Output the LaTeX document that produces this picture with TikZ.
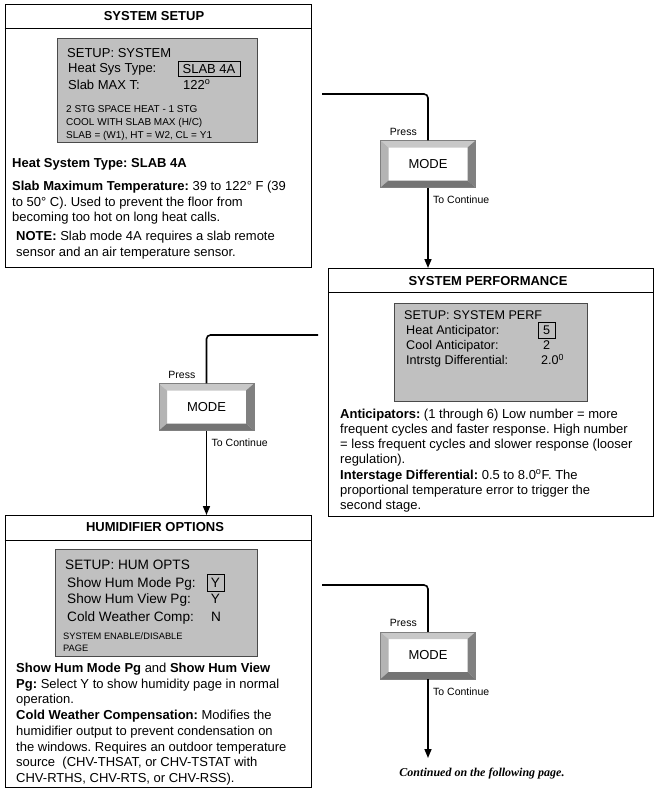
\documentclass[tikz,border=0pt]{standalone}
\usepackage{fontspec}
\setmainfont{Liberation Sans}
\newfontfamily\notefont{Liberation Serif}
\usepackage{tikz}
\usetikzlibrary{arrows.meta}
\frenchspacing

\definecolor{lcdgray}{HTML}{C0C0C0}
\definecolor{lcdedge}{HTML}{4A4A4A}
\definecolor{bevtop}{HTML}{C8C8C8}
\definecolor{bevleft}{HTML}{B4B4B4}
\definecolor{bevright}{HTML}{808080}
\definecolor{bevbottom}{HTML}{747474}

\tikzset{
	panel/.style={draw=black, line width=0.8pt, anchor=north west, inner sep=0pt},
	lcd/.style={draw=lcdedge, fill=lcdgray, line width=1.2pt, anchor=north west, inner sep=0pt},
	valbox/.style={draw=black, line width=1pt, inner sep=0pt},
	title/.style={anchor=base, inner sep=0pt, font=\bfseries\fontsize{13}{15}\selectfont},
	txt/.style={anchor=base west, inner sep=0pt, align=left, font=\fontsize{13}{15.5}\selectfont},
	lbl/.style={inner sep=0pt, font=\fontsize{10.5}{12}\selectfont},
	flow/.style={line width=1.6pt, rounded corners=4pt},
	modebtn/.style={minimum width=95pt, minimum height=47pt, inner sep=0pt,
		draw=bevright, line width=0.5pt, fill=white, font=\fontsize{13}{15}\selectfont,
		path picture={
			\fill[bevtop] (path picture bounding box.north west) -- (path picture bounding box.north east)
				-- ([shift={(-8pt,-7pt)}]path picture bounding box.north east)
				-- ([shift={(8pt,-7pt)}]path picture bounding box.north west) -- cycle;
			\fill[bevleft] (path picture bounding box.north west)
				-- ([shift={(8pt,-7pt)}]path picture bounding box.north west)
				-- ([shift={(8pt,7pt)}]path picture bounding box.south west)
				-- (path picture bounding box.south west) -- cycle;
			\fill[bevright] (path picture bounding box.north east) -- (path picture bounding box.south east)
				-- ([shift={(-8pt,7pt)}]path picture bounding box.south east)
				-- ([shift={(-8pt,-7pt)}]path picture bounding box.north east) -- cycle;
			\fill[bevbottom] (path picture bounding box.south west) -- (path picture bounding box.south east)
				-- ([shift={(-8pt,7pt)}]path picture bounding box.south east)
				-- ([shift={(8pt,7pt)}]path picture bounding box.south west) -- cycle;
		}},
}

\begin{document}
\begin{tikzpicture}[x=1pt, y=-1pt]
	\useasboundingbox (0,0) rectangle (659,792);

	% the three panels
	\node[panel, minimum width=306pt, minimum height=262pt] (setup) at (4.5,4.5) {};
	\node[panel, minimum width=325pt, minimum height=248pt] (perf) at (328,268) {};
	\node[panel, minimum width=306pt, minimum height=272pt] (hum) at (4.5,515) {};
	\foreach \p/\h in {setup/24, perf/24, hum/25} {
		\draw[line width=0.8pt] ([yshift=-\h pt]\p.north west) -- ([yshift=-\h pt]\p.north east);
	}
	\node[title] (setuptitle) at (154,21) {SYSTEM SETUP};
	\node[title] (perftitle) at (488,285.5) {SYSTEM PERFORMANCE};
	\node[title] (humtitle) at (155,531.5) {HUMIDIFIER OPTIONS};

	% system setup screen (multi-line nodes sit on their last baseline)
	\node[lcd, minimum width=200pt, minimum height=104pt] (sysscreen) at (57,38) {};
	\foreach \xx/\yy/\txt [count=\i] in {67/57/SETUP: SYSTEM, 68/73/Heat Sys Type:, 68/89/Slab MAX T:} {
		\node[anchor=base west, inner sep=0pt, font=\fontsize{13}{16}\selectfont] (sysrow\i) at (\xx,\yy) {\txt};
	}
	\node[valbox, minimum width=62pt, minimum height=15pt, font=\fontsize{13}{16}\selectfont] (heatval) at (209,69) {SLAB 4A};
	\node[anchor=base west, inner sep=0pt, font=\fontsize{13}{16}\selectfont] (slabval) at (183,89) {122\textsuperscript{o}};
	\node[anchor=base west, inner sep=0pt, align=left, font=\fontsize{10}{13}\selectfont] (sysmode) at (66,138.5)
		{2 STG SPACE HEAT - 1 STG\\COOL WITH SLAB MAX (H/C)\\SLAB = (W1), HT = W2, CL = Y1};

	\node[txt] (typenote) at (12,167.5) {\textbf{Heat System Type: SLAB 4A}};
	\node[txt] (slabnote) at (12,221.5) {\textbf{Slab Maximum Temperature:} 39 to 122° F (39\\to 50° C). Used to prevent the floor from\\becoming too hot on long heat calls.};
	\node[txt] (warnnote) at (16,256) {\textbf{NOTE:} Slab mode 4A requires a slab remote\\sensor and an air temperature sensor.};

	% system performance screen
	\node[lcd, minimum width=193pt, minimum height=98pt] (perfscreen) at (394,303) {};
	\foreach \xx/\yy/\txt [count=\i] in {404/319.5/SETUP: SYSTEM PERF, 406/334.5/Heat Anticipator:, 406/349.5/Cool Anticipator:, 406/364.5/Intrstg Differential:} {
		\node[anchor=base west, inner sep=0pt, font=\fontsize{12.6}{15}\selectfont] (perfrow\i) at (\xx,\yy) {\txt};
	}
	\node[valbox, minimum width=17pt, minimum height=16pt, font=\fontsize{12.6}{15}\selectfont] (heatant) at (546.5,330) {5};
	\node[anchor=base, inner sep=0pt, font=\fontsize{12.6}{15}\selectfont] (coolant) at (546.5,349.5) {2};
	\node[anchor=base west, inner sep=0pt, font=\fontsize{12.6}{15}\selectfont] (stagediff) at (541,364.5) {2.0\textsuperscript{0}};

	\node[txt, font=\fontsize{13}{15.3}\selectfont] (perfnote) at (340,509.8)
		{\textbf{Anticipators:} (1 through 6) Low number = more\\frequent cycles and faster response. High number\\= less frequent cycles and slower response (looser\\regulation).\\\textbf{Interstage Differential:} 0.5 to 8.0\textsuperscript{o}F. The\\proportional temperature error to trigger the\\second stage.};

	% humidifier screen
	\node[lcd, minimum width=202pt, minimum height=107pt] (humscreen) at (55,549) {};
	\foreach \xx/\yy/\txt [count=\i] in {65/569/SETUP: HUM OPTS, 67/587/Show Hum Mode Pg:, 67/603/Show Hum View Pg:, 67/621/Cold Weather Comp:} {
		\node[anchor=base west, inner sep=0pt, font=\fontsize{13.6}{17}\selectfont] (humrow\i) at (\xx,\yy) {\txt};
	}
	\node[valbox, minimum width=17pt, minimum height=17pt, font=\fontsize{13.6}{17}\selectfont] (modeval) at (215.5,582.5) {Y};
	\node[anchor=base, inner sep=0pt, font=\fontsize{13.6}{17}\selectfont] (viewval) at (215.5,603) {Y};
	\node[anchor=base, inner sep=0pt, font=\fontsize{13.6}{17}\selectfont] (compval) at (216,621) {N};
	\node[anchor=base west, inner sep=0pt, align=left, font=\fontsize{9.3}{12}\selectfont] (humpage) at (63,651.5)
		{SYSTEM ENABLE/DISABLE\\PAGE};

	\node[txt, font=\fontsize{13}{15.7}\selectfont] (humnote) at (16,782.4)
		{\textbf{Show Hum Mode Pg} and \textbf{Show Hum View}\\\textbf{Pg:} Select Y to show humidity page in normal\\operation.\\\textbf{Cold Weather Compensation:} Modifies the\\humidifier output to prevent condensation on\\the windows. Requires an outdoor temperature\\source\ \ (CHV-THSAT, or CHV-TSTAT with\\CHV-RTHS, CHV-RTS, or CHV-RSS).};

	% MODE buttons and flow
	\node[modebtn] (btn1) at (428,164) {MODE};
	\node[modebtn] (btn2) at (206.5,407) {MODE};
	\node[modebtn] (btn3) at (428,655.5) {MODE};
	\foreach \b in {btn1, btn2, btn3} {
		\node[lbl, anchor=base east] (\b-press) at ([xshift=-11pt,yshift=5pt]\b.north) {Press};
		\node[lbl, anchor=base west] (\b-cont) at ([xshift=5pt,yshift=-16pt]\b.south) {To Continue};
	}

	\coordinate (in1) at (322,94);
	\coordinate (in2) at (318,335);
	\coordinate (in3) at (322,585);
	\coordinate (end3) at (428,758);
	\draw[flow] (in1) -| (btn1.north);
	\draw[flow] (in2) -| (btn2.north);
	\draw[flow] (in3) -| (btn3.north);
	\draw[flow, -{Triangle[width=7pt,length=9pt]}] (btn1.south) -- (btn1.south |- perf.north);
	\draw[flow, -{Triangle[width=7pt,length=9pt]}] (btn2.south) -- (btn2.south |- hum.north);
	\draw[flow, -{Triangle[width=7pt,length=9pt]}] (btn3.south) -- (end3);

	\node[anchor=base, inner sep=0pt, font=\notefont\bfseries\itshape\fontsize{12}{14}\selectfont] (contnote) at (482,776) {Continued on the following page.};
\end{tikzpicture}
\end{document}
